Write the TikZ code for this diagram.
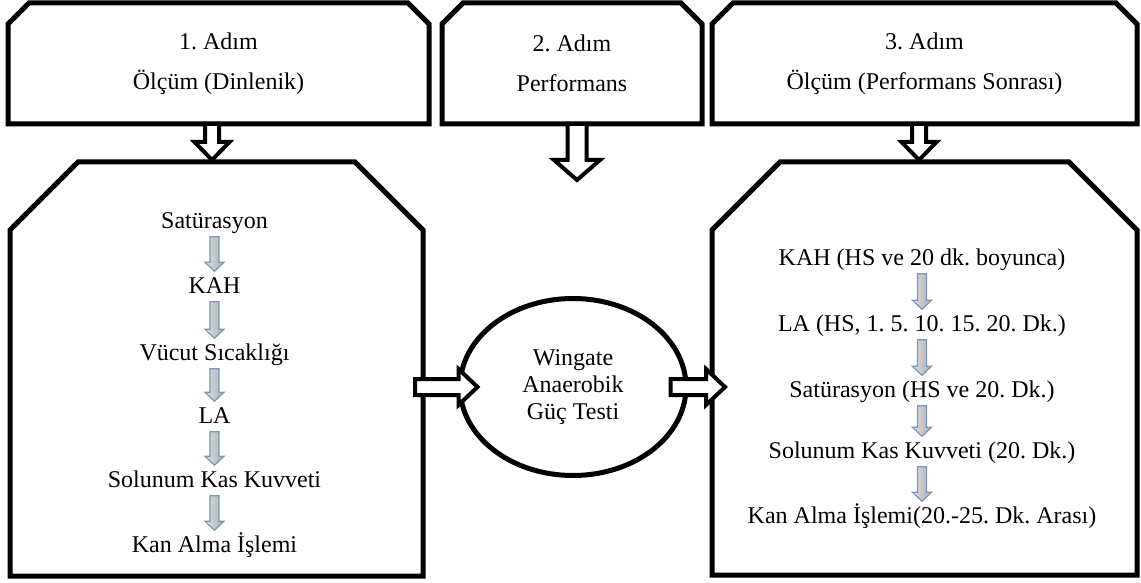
\documentclass[tikz,border=0pt]{standalone}
\usepackage{fontspec}
\setmainfont{Liberation Serif}
\usetikzlibrary{calc,shapes.geometric}
\frenchspacing

\definecolor{arrblue}{RGB}{120,150,190}

% outline with the two upper corners cut off
\newcommand{\cutframe}[2]{%
  \draw[frame] (#1.south west) -- ([yshift=-#2]#1.north west) -- ([xshift=#2]#1.north west)
    -- ([xshift=-#2]#1.north east) -- ([yshift=-#2]#1.north east) -- (#1.south east) -- cycle;}

\tikzset{
  blockto/.style n args={3}{to path={let \p1=($(\tikztotarget)-(\tikztostart)$),
      \n1={veclen(\x1,\y1)}, \n2={atan2(\y1,\x1)} in
      {[shift={(\tikztostart)}, rotate=\n2]
       (0pt,-#1) -- ({\n1*1pt-#3},-#1) -- ({\n1*1pt-#3},-#2) -- ({\n1*1pt},0pt)
       -- ({\n1*1pt-#3},#2) -- ({\n1*1pt-#3},#1) -- (0pt,#1) -- cycle}}},
}

\begin{document}
\begin{tikzpicture}[x=1pt, y=-1pt,
  font=\fontsize{24pt}{27pt}\selectfont,
  frame/.style={draw, line width=5pt, line join=miter},
  stepbox/.style={inner sep=0pt, outer sep=0pt, align=center, font=\fontsize{24pt}{40pt}\selectfont},
  bigbox/.style={inner sep=0pt, outer sep=0pt},
  item/.style={inner sep=0pt, text height=16pt, text depth=5pt},
  hollowarr/.style={draw, line width=4pt, fill=white, line join=miter, blockto={7pt}{17.5pt}{18pt}},
  minarr/.style={draw=arrblue, line width=1.2pt, left color=gray!25, right color=gray!65,
    line join=miter, blockto={4.5pt}{9.5pt}{9pt}}]
\useasboundingbox (0,0) rectangle (1141,583);

% steps
\node[stepbox, minimum width=421pt, minimum height=121pt] (s1) at (218.5,63.5) {1. Adım\\Ölçüm (Dinlenik)};
\node[stepbox, minimum width=260pt, minimum height=121pt] (s2) at (572,63.5) {2. Adım\\Performans};
\node[stepbox, minimum width=425pt, minimum height=121pt] (s3) at (924.5,63.5) {3. Adım\\Ölçüm (Performans Sonrası)};
\cutframe{s1}{21pt}
\cutframe{s2}{21pt}
\cutframe{s3}{21pt}

% measurement boxes
\node[bigbox, minimum width=413pt, minimum height=414pt] (b1) at (216.5,369) {};
\node[bigbox, minimum width=425pt, minimum height=413pt] (b3) at (924.5,368.5) {};
\cutframe{b1}{68pt}
\cutframe{b3}{68pt}

\node[ellipse, draw, line width=5pt, minimum width=226pt, minimum height=177pt, align=center] (w) at (573,387)
  {Wingate\\Anaerobik\\Güç Testi};

% before
\node[item] (l1) at (214.5,223) {Satürasyon};
\node[item] (l2) at (214.5,288) {KAH};
\node[item] (l3) at (214.5,355) {Vücut Sıcaklığı};
\node[item] (l4) at (214.5,418) {LA};
\node[item] (l5) at (214.5,482) {Solunum Kas Kuvveti};
\node[item] (l6) at (214.5,547) {Kan Alma İşlemi};

% after
\node[item] (r1) at (922,260) {KAH (HS ve 20 dk. boyunca)};
\node[item] (r2) at (922,326) {LA (HS, 1. 5. 10. 15. 20. Dk.)};
\node[item] (r3) at (922,392) {Satürasyon (HS ve 20. Dk.)};
\node[item] (r4) at (922,453) {Solunum Kas Kuvveti (20. Dk.)};
\node[item] (r5) at (922,518) {Kan Alma İşlemi(20.-25. Dk. Arası)};

\foreach \a/\b in {l1/l2,l2/l3,l3/l4,l4/l5,l5/l6,r1/r2,r2/r3,r3/r4,r4/r5}
  \draw[minarr] ([yshift=-3pt]\a.south) to ([yshift=6pt]\b.north);

% block arrows
\coordinate (p2) at (577,180);
\coordinate (e1) at (b1.east |- w.center);
\coordinate (e3) at (b3.west |- w.center);
\draw[hollowarr] ([xshift=-6.5pt]s1.south) to ([xshift=-4.5pt,yshift=2pt]b1.north);
\draw[hollowarr, blockto={9.5pt}{23pt}{20pt}] ([xshift=5pt]s2.south) to (p2);
\draw[hollowarr] ([xshift=-5.5pt]s3.south) to ([xshift=-5.5pt,yshift=2pt]b3.north);
\draw[hollowarr, blockto={8pt}{18pt}{19pt}] ([xshift=-8pt]e1) to ([xshift=20pt]w.west);
\draw[hollowarr, blockto={8pt}{18pt}{19pt}] ([xshift=-18pt]w.east) to ([xshift=13pt]e3);
\end{tikzpicture}
\end{document}
